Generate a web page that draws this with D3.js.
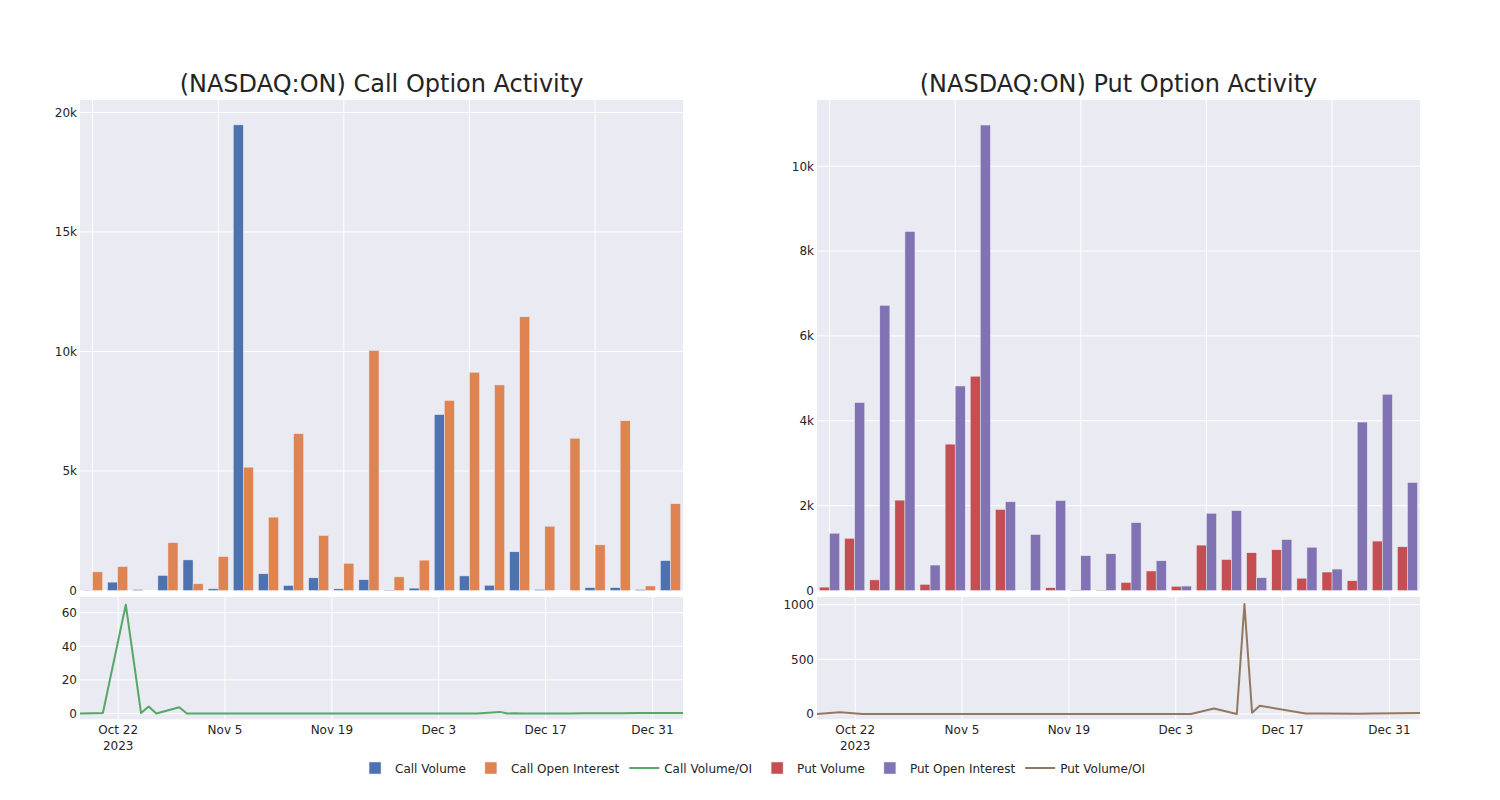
<!DOCTYPE html>
<html>
<head>
<meta charset="utf-8">
<script src="https://cdn.jsdelivr.net/npm/d3@7"></script>
<style>
  html, body { margin: 0; padding: 0; background: #fff; }
  svg { display: block; font-family: "DejaVu Sans", sans-serif; }
</style>
</head>
<body>
<svg id="chart" width="1500" height="800"></svg>
<script>
// ---------------- data ----------------
const dates = ["2023-10-17","2023-10-20","2023-10-23","2023-10-25","2023-10-26","2023-10-27",
  "2023-10-30","2023-10-31","2023-11-03","2023-11-10","2023-11-17","2023-11-24",
  "2023-12-01","2023-12-05","2023-12-08","2023-12-11","2023-12-12","2023-12-13",
  "2023-12-14","2023-12-20","2023-12-22","2023-12-27","2023-12-29","2024-01-04"];

const callVolume = [10, 350, 40, 630, 1280, 70, 19480, 700, 210, 530, 70, 450,
  20, 100, 7360, 610, 220, 1620, 40, 0, 120, 120, 40, 1250];
const callOpenInterest = [780, 1000, 0, 2000, 280, 1420, 5160, 3070, 6560, 2300, 1140, 10040,
  570, 1270, 7950, 9130, 8600, 11450, 2690, 6370, 1910, 7100, 190, 3630];
const callVolumeOI = [0, 0.3, 64.7, 0.3, 4.2, 0, 3.8, 0, 0, 0, 0, 0,
  0, 0, 0.1, 1.0, 0, 0.2, 0.1, 0.1, 0.2, 0.2, 0.3, 0.4];

const putVolume = [80, 1230, 250, 2130, 145, 3450, 5050, 1910, 0, 65, 10, 10,
  190, 460, 100, 1070, 730, 890, 960, 290, 435, 230, 1165, 1030];
const putOpenInterest = [1350, 4430, 6720, 8460, 600, 4820, 10970, 2090, 1320, 2120, 820, 865,
  1600, 700, 105, 1820, 1880, 300, 1200, 1020, 505, 3970, 4625, 2545];
const putVolumeOI = [0, 15, 0, 0, 0, 0, 0, 0, 0, 0, 0, 0,
  0, 0, 50, 0, 1005, 12, 75, 4, 3, 2, 4, 8];

const callBarTicks = [0, 5000, 10000, 15000, 20000];
const putBarTicks = [0, 2000, 4000, 6000, 8000, 10000];
const callLineTicks = [0, 20, 40, 60];
const putLineTicks = [0, 500, 1000];
const dateTicks = ["2023-10-22","2023-11-05","2023-11-19","2023-12-03","2023-12-17","2023-12-31"];
const dateTickLabels = [["Oct 22","2023"],["Nov 5"],["Nov 19"],["Dec 3"],["Dec 17"],["Dec 31"]];

const titles = ["(NASDAQ:ON) Call Option Activity", "(NASDAQ:ON) Put Option Activity"];
const legendItems = [
  {name: "Call Volume", type: "bar", color: "rgb(76,114,176)"},
  {name: "Call Open Interest", type: "bar", color: "rgb(221,132,82)"},
  {name: "Call Volume/OI", type: "line", color: "rgb(85,168,104)"},
  {name: "Put Volume", type: "bar", color: "rgb(196,78,82)"},
  {name: "Put Open Interest", type: "bar", color: "rgb(129,114,179)"},
  {name: "Put Volume/OI", type: "line", color: "rgb(147,120,96)"}
];

// ---------------- styles ----------------
const BG = "rgb(234,234,242)";
const TXT = "rgb(36,36,36)";
const parse = d3.timeParse("%Y-%m-%d");
const svg = d3.select("#chart");
svg.append("rect").attr("width", 1500).attr("height", 800).attr("fill", "#fff");

const panels = [
  {x0: 80, x1: 683, vol: callVolume, oi: callOpenInterest, ratio: callVolumeOI,
   colors: [legendItems[0].color, legendItems[1].color], lineColor: legendItems[2].color,
   barMax: 20520, barTicks: callBarTicks, lineDomain: [-3.4, 69.3], lineTicks: callLineTicks, title: titles[0]},
  {x0: 817, x1: 1420, vol: putVolume, oi: putOpenInterest, ratio: putVolumeOI,
   colors: [legendItems[3].color, legendItems[4].color], lineColor: legendItems[5].color,
   barMax: 11560, barTicks: putBarTicks, lineDomain: [-49, 1070], lineTicks: putLineTicks, title: titles[1]}
];

const topY0 = 100, topY1 = 590.5, botY0 = 597, botY1 = 719.3;

panels.forEach(p => {
  const g = svg.append("g");
  // title
  g.append("text").attr("x", (p.x0 + p.x1) / 2).attr("y", 92)
    .attr("text-anchor", "middle").attr("fill", TXT).attr("font-size", 24)
    .text(p.title);

  // ---------- bar subplot ----------
  const xb = d3.scaleBand().domain(dates).range([p.x0, p.x1]).paddingInner(0.2).paddingOuter(0.1);
  const xs = d3.scaleBand().domain([0, 1]).range([0, xb.bandwidth()]);
  const yb = d3.scaleLinear().domain([0, p.barMax]).range([topY1, topY0]);

  g.append("rect").attr("x", p.x0).attr("y", topY0).attr("width", p.x1 - p.x0)
    .attr("height", topY1 - topY0).attr("fill", BG);
  g.append("g").selectAll("line").data(p.barTicks).join("line")
    .attr("x1", p.x0).attr("x2", p.x1).attr("y1", d => yb(d)).attr("y2", d => yb(d))
    .attr("stroke", "#fff").attr("stroke-width", 1);
  g.append("g").selectAll("line").data(dates.filter((d, i) => i % 5 === 0)).join("line")
    .attr("x1", d => xb(d) + xb.bandwidth() / 2).attr("x2", d => xb(d) + xb.bandwidth() / 2)
    .attr("y1", topY0).attr("y2", topY1).attr("stroke", "#fff").attr("stroke-width", 1);

  [p.vol, p.oi].forEach((vals, si) => {
    g.append("g").selectAll("rect").data(dates).join("rect")
      .attr("x", d => xb(d) + xs(si))
      .attr("width", xs.bandwidth())
      .attr("y", (d, i) => yb(vals[i]))
      .attr("height", (d, i) => yb(0) - yb(vals[i]))
      .attr("fill", p.colors[si])
      .attr("stroke", BG).attr("stroke-width", 0.5);
  });

  const yAxisB = d3.axisLeft(yb).tickValues(p.barTicks).tickFormat(d3.format("~s")).tickSize(0).tickPadding(3);
  const ga = g.append("g").attr("transform", `translate(${p.x0},0)`).call(yAxisB);
  ga.select(".domain").remove();
  ga.selectAll("text").attr("fill", TXT).attr("font-size", 12).attr("font-family", "DejaVu Sans");

  // ---------- line subplot ----------
  const xt = d3.scaleTime().domain([parse("2023-10-17"), parse("2024-01-04")]).range([p.x0, p.x1]);
  const yl = d3.scaleLinear().domain(p.lineDomain).range([botY1, botY0]);

  g.append("rect").attr("x", p.x0).attr("y", botY0).attr("width", p.x1 - p.x0)
    .attr("height", botY1 - botY0).attr("fill", BG);
  g.append("g").selectAll("line").data(p.lineTicks).join("line")
    .attr("x1", p.x0).attr("x2", p.x1).attr("y1", d => yl(d)).attr("y2", d => yl(d))
    .attr("stroke", "#fff").attr("stroke-width", 1);
  g.append("g").selectAll("line").data(dateTicks).join("line")
    .attr("x1", d => xt(parse(d))).attr("x2", d => xt(parse(d)))
    .attr("y1", botY0).attr("y2", botY1).attr("stroke", "#fff").attr("stroke-width", 1);

  const line = d3.line().x((d, i) => xt(parse(dates[i]))).y(d => yl(d));
  g.append("path").datum(p.ratio).attr("d", line)
    .attr("fill", "none").attr("stroke", p.lineColor).attr("stroke-width", 2)
    .attr("stroke-linejoin", "round");

  const yAxisL = d3.axisLeft(yl).tickValues(p.lineTicks).tickFormat(d3.format("d")).tickSize(0).tickPadding(3);
  const gl = g.append("g").attr("transform", `translate(${p.x0},0)`).call(yAxisL);
  gl.select(".domain").remove();
  gl.selectAll("text").attr("fill", TXT).attr("font-size", 12).attr("font-family", "DejaVu Sans");

  const xAxis = d3.axisBottom(xt).tickValues(dateTicks.map(parse)).tickSize(0).tickFormat("");
  const gx = g.append("g").attr("transform", `translate(0,${botY1})`).call(xAxis);
  gx.select(".domain").remove();
  dateTicks.forEach((d, i) => {
    const t = g.append("text").attr("x", xt(parse(d))).attr("y", 733.5)
      .attr("text-anchor", "middle").attr("fill", TXT).attr("font-size", 12);
    dateTickLabels[i].forEach((s, k) => {
      t.append("tspan").attr("x", xt(parse(d))).attr("dy", k === 0 ? 0 : 16).text(s);
    });
  });
});

// ---------------- legend ----------------
const lg = svg.append("g");
let cx = 0;
const items = legendItems.map(it => {
  const g = lg.append("g").attr("transform", `translate(${cx},0)`);
  if (it.type === "bar") {
    g.append("rect").attr("x", 14).attr("y", -6).attr("width", 12).attr("height", 12)
      .attr("fill", it.color).attr("stroke", BG).attr("stroke-width", 0.5);
  } else {
    g.append("line").attr("x1", 5).attr("x2", 35).attr("y1", 0).attr("y2", 0)
      .attr("stroke", it.color).attr("stroke-width", 2);
  }
  const t = g.append("text").attr("x", 40).attr("y", 4.5).attr("fill", TXT)
    .attr("font-size", 12).text(it.name);
  const w = t.node().getComputedTextLength();
  cx += 40 + w + 5;
  return g;
});
const total = cx - 5;
lg.attr("transform", `translate(${750 - total / 2},768)`);
</script>
</body>
</html>
